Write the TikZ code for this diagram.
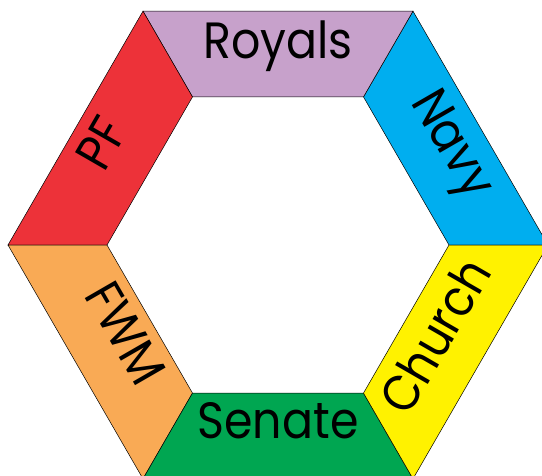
\documentclass[tikz,border=0pt]{standalone}
\usepackage{fontspec}
\setmainfont{Poppins}[FakeStretch=0.9]
\usetikzlibrary{positioning}

\definecolor{navyblue}{RGB}{0,174,239}
\definecolor{royalpurple}{RGB}{199,161,203}
\definecolor{pfred}{RGB}{237,50,57}
\definecolor{fwmorange}{RGB}{249,170,85}
\definecolor{senategreen}{RGB}{0,166,81}
\definecolor{churchyellow}{RGB}{255,242,0}

\begin{document}
\begin{tikzpicture}[x=1pt,y=1pt,
  band/.style={draw=black, line width=0.5pt},
  lbl/.style={font=\fontsize{51}{51}\selectfont, inner sep=0pt, text height=0.7em, text depth=0pt}]
  \useasboundingbox (-278,-230) rectangle (264,245);
  \clip (-278,-230) rectangle (264,245);
  % six bands of the ring
  \foreach \a/\c in {0/navyblue,60/royalpurple,120/pfred,180/fwmorange,240/senategreen,300/churchyellow}
    \filldraw[band, fill=\c] (\a:270) -- (\a+60:270) -- (\a+60:171) -- (\a:171) -- cycle;
  \node (royals) [lbl] at (90:190) {Royals};
  \node (navy) [lbl, rotate=-60] at (30:190) {Navy};
  \node (church) [lbl, rotate=60] at (-30:196) {Church};
  \node (senate) [lbl] at (-90:190) {Senate};
  \node (fwm) [lbl, rotate=-60] at (210:190) {FWM};
  \node (pf) [lbl, rotate=60] at (150:190) {PF};
\end{tikzpicture}
\end{document}
